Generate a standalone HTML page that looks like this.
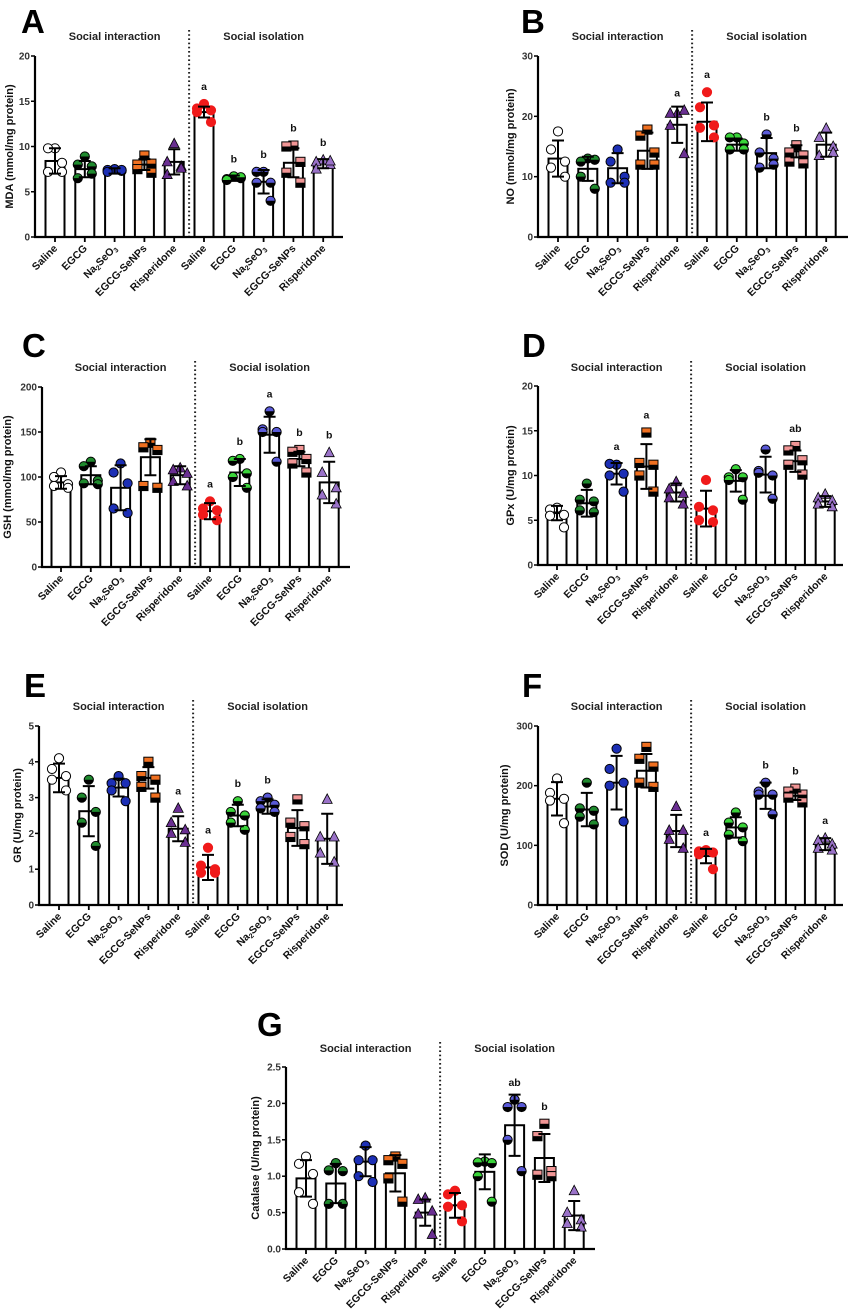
<!DOCTYPE html>
<html><head><meta charset="utf-8"><style>
html,body{margin:0;padding:0;background:#fff;}
svg{display:block;font-family:"Liberation Sans",Arial,sans-serif;}
</style></head><body>
<svg id="fig" width="851" height="1314" viewBox="0 0 851 1314" xmlns="http://www.w3.org/2000/svg"></svg>
<script>
// ---------- data ----------
const groups = ["Saline","EGCG","Na2SeO3","EGCG-SeNPs","Risperidone","Saline","EGCG","Na2SeO3","EGCG-SeNPs","Risperidone"];

const mdaTicks = [0,5,10,15,20];
const mdaMeans = [8.4,7.5,7.3,8.0,8.3,13.8,6.5,6.1,8.2,8.1];
const mdaSD = [1.4,0.9,0.3,0.6,1.4,0.6,0.3,1.3,1.6,0.5];
const mdaPoints = [[9.8,9.8,8.2,7.2,7.2],[8.9,8.0,7.8,6.5,7.0],[7.5,7.4,7.3,7.2,7.4],[9.0,8.0,8.1,7.5,7.1],[10.3,8.3,7.8,6.9,7.6],[14.7,14.2,14.0,13.8,12.7],[6.7,6.4,6.5,6.3,6.6],[7.2,7.2,6.0,6.0,4.0],[10.1,10.0,8.3,7.1,6.0],[8.5,8.3,8.0,7.5,8.4]];
const mdaSig = ["","","","","","a","b","b","b","b"];

const noTicks = [0,10,20,30];
const noMeans = [13.0,11.3,11.4,14.3,18.6,19.1,15.3,13.9,14.2,15.3];
const noSD = [3.0,2.0,2.5,3.0,3.0,3.2,1.0,2.5,1.0,2.0];
const noPoints = [[17.5,14.5,12.5,11.5,10],[13,12.5,12.8,10,8],[14.5,12.5,10,9,9],[17.8,16.8,14,12,12],[20.5,20.5,21,18.5,13.8],[24,21.5,18.5,18.1,16.5],[16.5,16.5,15.5,14.5,14.5],[17,14,13,11.5,12],[15.2,14,13.5,12.5,12.2],[18,16.5,15,13.5,14]];
const noSig = ["","","","","a","a","","b","b",""];

const gshTicks = [0,50,100,150,200];
const gshMeans = [94,102,88,122,102,62,105,147,120,94];
const gshSD = [7,10,25,20,10,9,15,20,8,23];
const gshPoints = [[105,100,92,90,88],[117,112,96,93,92],[115,105,93,65,60],[138,133,130,90,88],[110,108,104,95,90],[73,65,63,58,52],[120,118,104,100,88],[173,153,150,150,117],[130,128,120,115,105],[127,105,88,80,70]];
const gshSig = ["","","","","","a","b","a","b","b"];

const gpxTicks = [0,5,10,15,20];
const gpxMeans = [5.8,6.9,10.2,11.0,8.1,6.3,9.4,10.1,11.6,7.1];
const gpxSD = [0.8,1.5,1.2,2.5,1.0,2.0,1.2,2.0,1.2,0.6];
const gpxPoints = [[6.4,6.2,5.6,5.5,4.2],[9.1,7.3,7.1,6.1,5.9],[11.2,11.3,10.2,10.0,8.2],[14.8,11.4,11.2,10.0,8.2],[9.3,8.5,8.0,7.5,6.8],[9.5,6.5,6.1,5.0,4.8],[10.7,9.8,9.8,9.5,7.3],[12.9,10.5,10.0,10.3,7.4],[13.3,12.8,11.7,11.2,10.1],[7.9,7.5,7.2,6.8,6.5]];
const gpxSig = ["","","a","a","","","","","ab",""];

const grTicks = [0,1,2,3,4,5];
const grMeans = [3.55,2.62,3.28,3.55,2.13,1.05,2.5,2.75,2.15,1.85];
const grSD = [0.4,0.7,0.25,0.3,0.35,0.35,0.3,0.2,0.5,0.7];
const grPoints = [[4.1,3.8,3.6,3.5,3.2],[3.5,3.0,2.6,2.3,1.65],[3.6,3.4,3.4,3.2,2.9],[4.0,3.6,3.5,3.3,3.0],[2.7,2.3,2.1,2.0,1.75],[1.6,1.1,1.0,0.9,0.9],[2.9,2.6,2.5,2.3,2.1],[3.0,2.9,2.8,2.7,2.6],[2.95,2.3,2.2,1.9,1.7],[2.95,1.9,1.9,1.45,1.2]];
const grSig = ["","","","","a","a","b","b","",""];

const sodTicks = [0,100,200,300];
const sodMeans = [178,160,205,225,124,82,130,183,183,102];
const sodSD = [28,28,45,28,27,12,17,22,7,10];
const sodPoints = [[212,188,178,175,137],[205,162,158,148,135],[262,228,205,200,140],[265,245,232,205,198],[165,125,125,110,95],[92,90,88,85,60],[155,138,130,118,107],[205,190,185,185,152],[195,190,185,180,172],[112,108,102,95,92]];
const sodSig = ["","","","","","a","","b","b","a"];

const catTicks = [0,0.5,1.0,1.5,2.0,2.5];
const catMeans = [0.97,0.90,1.20,1.04,0.50,0.60,1.06,1.70,1.25,0.46];
const catSD = [0.25,0.27,0.2,0.25,0.18,0.17,0.24,0.42,0.33,0.2];
const catPoints = [[1.27,1.17,1.03,0.78,0.62],[1.18,1.08,1.07,0.62,0.62],[1.42,1.22,1.22,1.0,0.92],[1.27,1.22,1.17,0.97,0.65],[0.7,0.68,0.52,0.48,0.2],[0.8,0.75,0.6,0.58,0.38],[1.2,1.19,1.18,1.0,0.65],[2.05,1.95,1.95,1.5,1.07],[1.72,1.55,1.07,1.02,1.0],[0.8,0.5,0.4,0.35,0.3]];
const catSig = ["","","","","","","","ab","b",""];

// ---------- drawing ----------
const NS = "http://www.w3.org/2000/svg";
const svg = document.getElementById('fig');
function el(tag, attrs, parent){
  const e = document.createElementNS(NS, tag);
  for (const k in attrs) e.setAttribute(k, attrs[k]);
  (parent||svg).appendChild(e);
  return e;
}
const styles = [
  {shape:'c', fill:'#ffffff', half:false, stroke:'#000'},
  {shape:'c', fill:'#1f8a2e', half:true, stroke:'#000'},
  {shape:'c', fill:'#1c2fb5', half:false, stroke:'#000'},
  {shape:'s', fill:'#f07020', half:true, stroke:'#000'},
  {shape:'t', fill:'#6a2f92', half:false, stroke:'#000'},
  {shape:'c', fill:'#f01a1a', half:false, stroke:'#f01a1a'},
  {shape:'c', fill:'#3ad43a', half:true, stroke:'#000'},
  {shape:'c', fill:'#5a5ad8', half:true, stroke:'#000'},
  {shape:'s', fill:'#f19595', half:true, stroke:'#000'},
  {shape:'t', fill:'#9a72c8', half:false, stroke:'#000'}
];
const offsets = [0,-7,7,-7,7];

function panel(cfg){
  const g = el('g', {});
  
  
  const maxV = cfg.ticks[cfg.ticks.length-1];
  const y = v => cfg.bottom - (v/maxV)*(cfg.bottom-cfg.top);
  const x = i => cfg.x0 + i*29.8;
  const L = el('text', {x:cfg.lx, y:cfg.ly, 'font-size':33, 'font-weight':'bold', fill:'#000'}, g);
  L.textContent = cfg.letter;
  
  
  const h1 = el('text', {x:x(2), y:cfg.hy, 'font-size':11, 'font-weight':'bold', 'text-anchor':'middle', fill:'#222'}, g);
  h1.textContent = 'Social interaction';
  
  
  const h2 = el('text', {x:x(7), y:cfg.hy, 'font-size':11, 'font-weight':'bold', 'text-anchor':'middle', fill:'#222'}, g);
  h2.textContent = 'Social isolation';
  
  
  const dx = x(4.5);
  const dv = el('line', {x1:dx, x2:dx, y1:cfg.hy-10, y2:cfg.bottom, stroke:'#222', 'stroke-width':2, 'stroke-dasharray':'1.6 2.6'}, g);
  
  
  const yt = el('text', {x:0, y:0, 'font-size':11, 'font-weight':'bold', 'text-anchor':'middle', fill:'#111', transform:`translate(${cfg.tx},${(cfg.top+cfg.bottom)/2}) rotate(-90)`}, g);
  yt.textContent = cfg.title;
  
  
  for (let i=0;i<10;i++){
    const cx = x(i), m = cfg.means[i];
    const b = el('rect', {x:cx-9.5, y:y(m), width:19, height:cfg.bottom-y(m), fill:'#fff', stroke:'#000', 'stroke-width':2}, g);
    
    
  }
  for (let i=0;i<10;i++){
    const cx = x(i), st = styles[i];
    cfg.pts[i].forEach((v,j)=>{
      const px = cx + offsets[j], py = y(v);
      let m;
      if (st.shape==='c'){
        m = el('circle', {cx:px, cy:py, r:4.6, fill:st.fill, stroke:st.stroke, 'stroke-width':1}, g);
        if (st.half) el('path', {d:`M${px-4.6},${py} A4.6,4.6 0 0 0 ${px+4.6},${py} Z`, fill:'#000'}, g);
      } else if (st.shape==='s'){
        m = el('rect', {x:px-4.6, y:py-4.6, width:9.2, height:9.2, fill:st.fill, stroke:'#000', 'stroke-width':1}, g);
        if (st.half) el('rect', {x:px-4.6, y:py, width:9.2, height:4.6, fill:'#000'}, g);
      } else {
        m = el('path', {d:`M${px},${py-5.5} L${px+5},${py+4} L${px-5},${py+4} Z`, fill:st.fill, stroke:'#000', 'stroke-width':0.8}, g);
      }
      
      
    });
  }
  for (let i=0;i<10;i++){
    const cx = x(i), m = cfg.means[i], s = cfg.sd[i];
    const e = el('path', {d:`M${cx},${y(m-s)} V${y(m+s)} M${cx-6},${y(m+s)} H${cx+6} M${cx-6},${y(m-s)} H${cx+6}`, stroke:'#000', 'stroke-width':2, fill:'none'}, g);
    
    
    if (cfg.sig[i]){
      const top = Math.min(y(m+s), y(Math.max(...cfg.pts[i])) - 6);
      const t = el('text', {x:cx, y:top-8, 'font-size':10.5, 'font-weight':'bold', 'text-anchor':'middle', fill:'#111'}, g);
      t.textContent = cfg.sig[i];
      
      
    }
  }
  const ya = el('line', {x1:cfg.ax, x2:cfg.ax, y1:cfg.top, y2:cfg.bottom+1, stroke:'#000', 'stroke-width':2.2}, g);
  
  
  const xa = el('line', {x1:cfg.ax-1, x2:cfg.end, y1:cfg.bottom, y2:cfg.bottom, stroke:'#000', 'stroke-width':2.2}, g);
  
  
  cfg.ticks.forEach(tv=>{
    el('line', {x1:cfg.ax-4, x2:cfg.ax, y1:y(tv), y2:y(tv), stroke:'#000', 'stroke-width':1.5}, g);
    const tl = el('text', {x:cfg.ax-5, y:y(tv)+3.5, 'font-size':10, 'font-weight':'bold', 'text-anchor':'end', fill:'#333'}, g);
    tl.textContent = cfg.fmt ? tv.toFixed(1) : String(tv);
    
    
  });
  for (let i=0;i<10;i++){
    const cx = x(i);
    el('line', {x1:cx, x2:cx, y1:cfg.bottom, y2:cfg.bottom+5, stroke:'#000', 'stroke-width':1.8}, g);
    const t = el('text', {x:0, y:0, 'font-size':10.5, 'font-weight':'bold', 'text-anchor':'end', fill:'#111', transform:`translate(${cx+3},${cfg.bottom+12}) rotate(-45)`}, g);
    
    
    if (groups[i]==='Na2SeO3'){
      t.appendChild(document.createTextNode('Na'));
      const s1 = el('tspan', {'font-size':7, dy:2}, t); s1.textContent='2';
      const s2 = el('tspan', {dy:-2}, t); s2.textContent='SeO';
      const s3 = el('tspan', {'font-size':7, dy:2}, t); s3.textContent='3';
    } else t.textContent = groups[i];
  }
}

panel({name:'panel-a-mda', letter:'A', lx:21, ly:33, hy:40, ax:35, top:56, bottom:237, x0:55, end:343, tx:13, ticks:mdaTicks, title:'MDA (mmol/mg protein)', means:mdaMeans, sd:mdaSD, pts:mdaPoints, sig:mdaSig});
panel({name:'panel-b-no', letter:'B', lx:521, ly:33, hy:40, ax:538, top:56, bottom:237, x0:558, end:848, tx:514, ticks:noTicks, title:'NO (mmol/mg protein)', means:noMeans, sd:noSD, pts:noPoints, sig:noSig});
panel({name:'panel-c-gsh', letter:'C', lx:22, ly:357, hy:371, ax:42, top:387, bottom:567, x0:61, end:350, tx:11, ticks:gshTicks, title:'GSH (mmol/mg protein)', means:gshMeans, sd:gshSD, pts:gshPoints, sig:gshSig});
panel({name:'panel-d-gpx', letter:'D', lx:522, ly:357, hy:371, ax:538, top:386, bottom:565, x0:557, end:843, tx:514, ticks:gpxTicks, title:'GPx (U/mg protein)', means:gpxMeans, sd:gpxSD, pts:gpxPoints, sig:gpxSig});
panel({name:'panel-e-gr', letter:'E', lx:24, ly:697, hy:710, ax:39, top:726, bottom:905, x0:59, end:343, tx:21, ticks:grTicks, title:'GR (U/mg protein)', means:grMeans, sd:grSD, pts:grPoints, sig:grSig});
panel({name:'panel-f-sod', letter:'F', lx:522, ly:697, hy:710, ax:538, top:726, bottom:905, x0:557, end:843, tx:508, ticks:sodTicks, title:'SOD (U/mg protein)', means:sodMeans, sd:sodSD, pts:sodPoints, sig:sodSig});
panel({name:'panel-g-catalase', letter:'G', lx:257, ly:1036, hy:1052, ax:286, top:1067, bottom:1249, x0:306, end:595, tx:259, ticks:catTicks, fmt:true, title:'Catalase (U/mg protein)', means:catMeans, sd:catSD, pts:catPoints, sig:catSig});
</script>
</body></html>
